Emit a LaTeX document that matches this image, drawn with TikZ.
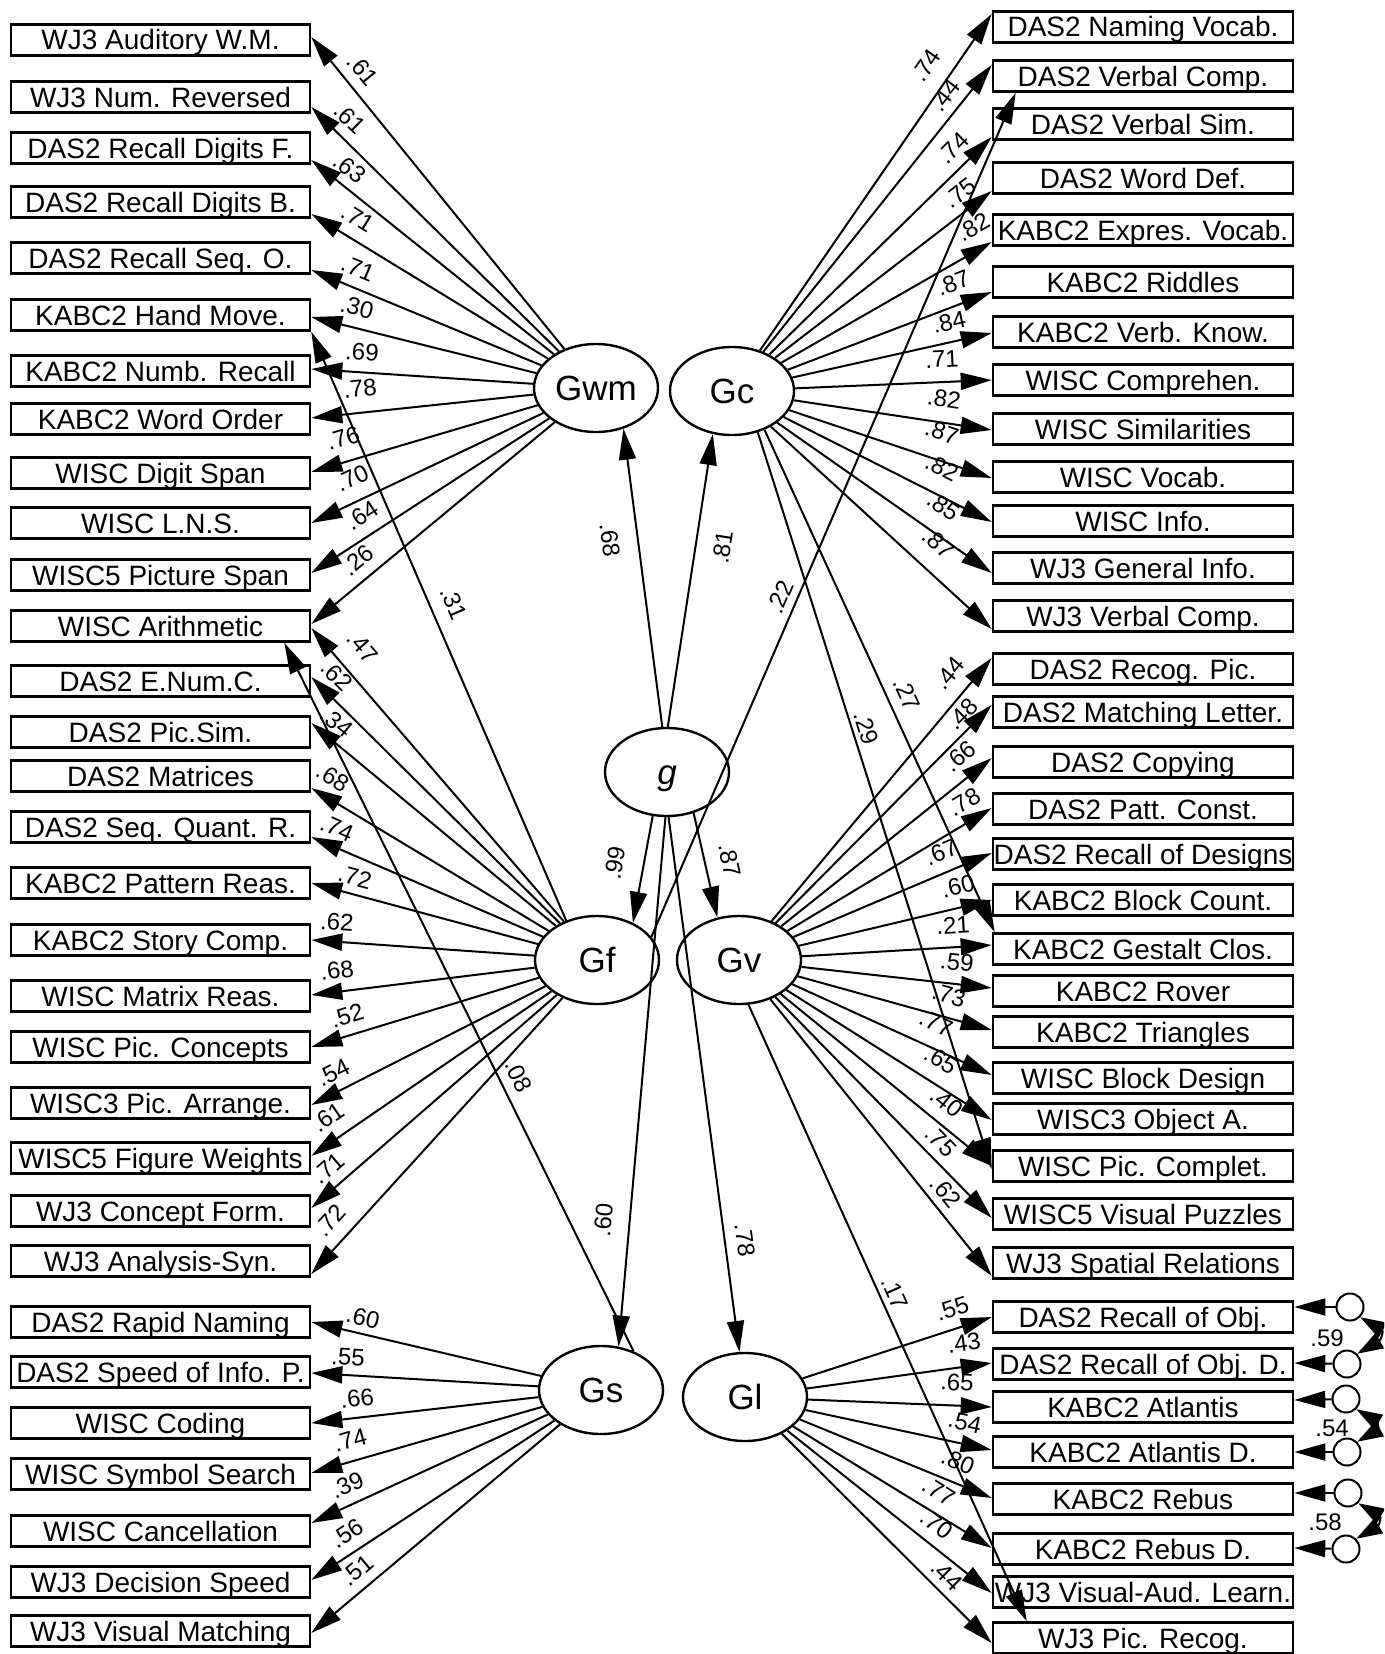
\documentclass[tikz,border=0pt]{standalone}
\usepackage{fontspec}
\setmainfont{Liberation Sans}
\usetikzlibrary{arrows.meta,calc,shapes.geometric}
\tikzset{
  box/.style={draw, line width=2.6pt, minimum width=299pt, minimum height=31pt, inner sep=0pt,
    text height=20pt, text depth=0pt, font=\fontsize{28}{30}\selectfont},
  rbox/.style={box, minimum width=300pt},
  lat/.style={draw, ellipse, line width=2.4pt, minimum width=124pt, minimum height=88pt, inner sep=0pt,
    text height=25pt, text depth=0pt, font=\fontsize{35}{40}\selectfont},
  arr/.style={line width=2pt, -{Triangle[length=31pt,width=17pt]}},
  dbl/.style={line width=2pt, {Triangle[length=26pt,width=17pt]}-{Triangle[length=26pt,width=17pt]}},
  lab/.style={font=\fontsize{24}{26}\selectfont, inner sep=0pt, text height=17pt, text depth=0pt},
  err/.style={draw, circle, line width=2pt, minimum size=27pt, inner sep=0pt},
}
\newcommand\ed[4]{%
  \draw[arr] (#1) -- (#2);
  \path let \p1=($(#1)-(#2)$), \n1={mod(atan2(\y1,\x1)+270,180)-90} in node[lab,rotate=\n1] at (#3) {#4};}
\newcommand\eL[5]{\coordinate (#1-#2) at ($(#2.east)+(0,#3)$);\ed{#1}{#1-#2}{#4}{#5}}
\newcommand\eR[5]{\coordinate (#1-#2) at ($(#2.west)+(0,#3)$);\ed{#1}{#1-#2}{#4}{#5}}
\begin{document}
\begin{tikzpicture}[x=1pt,y=-1pt]
\fill[white] (0,0) rectangle (1384,1654);
\useasboundingbox (0,0) rectangle (1384,1654);
\clip (0,0) rectangle (1384,1654);
% left boxes
\node[box] (a1) at (160.5,40) {WJ3 Auditory W.M.};
\node[box] (a2) at (160.5,97) {WJ3 Num. Reversed};
\node[box] (a3) at (160.5,148) {DAS2 Recall Digits F.};
\node[box] (a4) at (160.5,202) {DAS2 Recall Digits B.};
\node[box] (a5) at (160.5,258) {DAS2 Recall Seq. O.};
\node[box] (a6) at (160.5,315) {KABC2 Hand Move.};
\node[box] (a7) at (160.5,371) {KABC2 Numb. Recall};
\node[box] (a8) at (160.5,419) {KABC2 Word Order};
\node[box] (a9) at (160.5,473) {WISC Digit Span};
\node[box] (a10) at (160.5,523) {WISC L.N.S.};
\node[box] (a11) at (160.5,575) {WISC5 Picture Span};
\node[box] (a12) at (160.5,626) {WISC Arithmetic};
\node[box] (a13) at (160.5,681) {DAS2 E.Num.C.};
\node[box] (a14) at (160.5,732) {DAS2 Pic.Sim.};
\node[box] (a15) at (160.5,776) {DAS2 Matrices};
\node[box] (a16) at (160.5,827) {DAS2 Seq. Quant. R.};
\node[box] (a17) at (160.5,883) {KABC2 Pattern Reas.};
\node[box] (a18) at (160.5,940) {KABC2 Story Comp.};
\node[box] (a19) at (160.5,996) {WISC Matrix Reas.};
\node[box] (a20) at (160.5,1047) {WISC Pic. Concepts};
\node[box] (a21) at (160.5,1103) {WISC3 Pic. Arrange.};
\node[box] (a22) at (160.5,1158) {WISC5 Figure Weights};
\node[box] (a23) at (160.5,1211) {WJ3 Concept Form.};
\node[box] (a24) at (160.5,1261) {WJ3 Analysis-Syn.};
\node[box] (a25) at (160.5,1322) {DAS2 Rapid Naming};
\node[box] (a26) at (160.5,1372) {DAS2 Speed of Info. P.};
\node[box] (a27) at (160.5,1423) {WISC Coding};
\node[box] (a28) at (160.5,1474) {WISC Symbol Search};
\node[box] (a29) at (160.5,1531) {WISC Cancellation};
\node[box] (a30) at (160.5,1582) {WJ3 Decision Speed};
\node[box] (a31) at (160.5,1631) {WJ3 Visual Matching};
% right boxes
\node[rbox] (b1) at (1143,27) {DAS2 Naming Vocab.};
\node[rbox] (b2) at (1143,76) {DAS2 Verbal Comp.};
\node[rbox] (b3) at (1143,124) {DAS2 Verbal Sim.};
\node[rbox] (b4) at (1143,178) {DAS2 Word Def.};
\node[rbox] (b5) at (1143,230) {KABC2 Expres. Vocab.};
\node[rbox] (b6) at (1143,282) {KABC2 Riddles};
\node[rbox] (b7) at (1143,332) {KABC2 Verb. Know.};
\node[rbox] (b8) at (1143,380) {WISC Comprehen.};
\node[rbox] (b9) at (1143,429) {WISC Similarities};
\node[rbox] (b10) at (1143,477) {WISC Vocab.};
\node[rbox] (b11) at (1143,521) {WISC Info.};
\node[rbox] (b12) at (1143,568) {WJ3 General Info.};
\node[rbox] (b13) at (1143,616) {WJ3 Verbal Comp.};
\node[rbox] (b14) at (1143,669) {DAS2 Recog. Pic.};
\node[rbox] (b15) at (1143,712) {DAS2 Matching Letter.};
\node[rbox] (b16) at (1143,762) {DAS2 Copying};
\node[rbox] (b17) at (1143,809) {DAS2 Patt. Const.};
\node[rbox] (b18) at (1143,854) {DAS2 Recall of Designs};
\node[rbox] (b19) at (1143,900) {KABC2 Block Count.};
\node[rbox] (b20) at (1143,949) {KABC2 Gestalt Clos.};
\node[rbox] (b21) at (1143,991) {KABC2 Rover};
\node[rbox] (b22) at (1143,1032) {KABC2 Triangles};
\node[rbox] (b23) at (1143,1078) {WISC Block Design};
\node[rbox] (b24) at (1143,1119) {WISC3 Object A.};
\node[rbox] (b25) at (1143,1166) {WISC Pic. Complet.};
\node[rbox] (b26) at (1143,1214) {WISC5 Visual Puzzles};
\node[rbox] (b27) at (1143,1263) {WJ3 Spatial Relations};
\node[rbox] (b28) at (1143,1317) {DAS2 Recall of Obj.};
\node[rbox] (b29) at (1143,1364) {DAS2 Recall of Obj. D.};
\node[rbox] (b30) at (1143,1407) {KABC2 Atlantis};
\node[rbox] (b31) at (1143,1452) {KABC2 Atlantis D.};
\node[rbox] (b32) at (1143,1499) {KABC2 Rebus};
\node[rbox] (b33) at (1143,1549) {KABC2 Rebus D.};
\node[rbox] (b34) at (1143,1592) {WJ3 Visual-Aud. Learn.};
\node[rbox] (b35) at (1143,1638) {WJ3 Pic. Recog.};
% latent
\node[lat] (Gwm) at (596,388) {Gwm};
\node[lat] (Gc) at (732,391) {Gc};
\node[lat] (g) at (667,772) {\itshape g};
\node[lat] (Gf) at (597,960) {Gf};
\node[lat] (Gv) at (739,960) {Gv};
\node[lat] (Gs) at (601,1390) {Gs};
\node[lat] (Gl) at (745,1397) {Gl};
% error terms
\node[err] (e1) at (1350,1307) {};
\node[err] (e2) at (1347,1364) {};
\node[err] (e3) at (1346,1399) {};
\node[err] (e4) at (1347,1452) {};
\node[err] (e5) at (1348,1493) {};
\node[err] (e6) at (1346,1549) {};
% g loadings
\ed{g.96}{Gwm.-56}{610,540}{.68}
\ed{g.89}{Gc.-114}{723,547}{.81}
\ed{g.-108}{Gf.46}{615,863}{.99}
\ed{g.-57}{Gv.117}{730,860}{.87}
\ed{g.-92}{Gs.68}{603,1220}{.60}
\ed{g.-88}{Gl.97}{745,1240}{.78}
% Gwm
\eL{Gwm}{a1}{-3}{363,70}{.61}
\eL{Gwm}{a2}{10}{350,118}{.61}
\eL{Gwm}{a3}{12}{350,168}{.63}
\eL{Gwm}{a4}{12}{358,218}{.71}
\eL{Gwm}{a5}{12}{358,268}{.71}
\eL{Gwm}{a6}{2}{357,307}{.30}
\eL{Gwm}{a7}{-2}{362,352}{.69}
\eL{Gwm}{a8}{-1}{360,388}{.78}
\eL{Gwm}{a9}{-1}{343,438}{.76}
\eL{Gwm}{a10}{0}{352,478}{.70}
\eL{Gwm}{a11}{-2}{362,515}{.64}
\eL{Gwm}{a12}{-2}{358,560}{.26}
% Gf
\eL{Gf}{a12}{2}{363,647}{.47}
\eL{Gf}{a13}{-4}{337,675}{.62}
\eL{Gf}{a14}{-9}{337,722}{.34}
\eL{Gf}{a15}{12}{333,777}{.68}
\eL{Gf}{a16}{10}{337,828}{.74}
\eL{Gf}{a17}{0}{355,877}{.72}
\eL{Gf}{a18}{0}{337,922}{.62}
\eL{Gf}{a19}{-1}{337,970}{.68}
\eL{Gf}{a20}{0}{347,1015}{.52}
\eL{Gf}{a21}{2}{333,1072}{.54}
\eL{Gf}{a22}{-2}{328,1117}{.61}
\eL{Gf}{a23}{-3}{328,1168}{.71}
\eL{Gf}{a24}{13}{330,1220}{.72}
\coordinate (hm) at (a6.south east);
\ed{Gf.128}{hm}{454,603}{.31}
\coordinate (vc) at ($(b2.south west)+(24,0)$);
\ed{Gf.23}{vc}{780,597}{.22}
% Gs
\eL{Gs}{a25}{0}{363,1317}{.60}
\eL{Gs}{a26}{1}{348,1357}{.55}
\eL{Gs}{a27}{0}{357,1398}{.66}
\eL{Gs}{a28}{-1}{350,1440}{.74}
\eL{Gs}{a29}{-8}{347,1485}{.39}
\eL{Gs}{a30}{-2}{347,1533}{.56}
\eL{Gs}{a31}{2}{357,1570}{.51}
\coordinate (ar) at ($(a12.south east)+(-27,0)$);
\ed{Gs.50}{ar}{519,1076}{.08}
% Gc
\eR{Gc}{b1}{-13}{926,65}{.74}
\eR{Gc}{b2}{-11}{945,95}{.44}
\eR{Gc}{b3}{13}{953,148}{.74}
\eR{Gc}{b4}{13}{960,193}{.75}
\eR{Gc}{b5}{12}{973,227}{.82}
\eR{Gc}{b6}{10}{953,283}{.87}
\eR{Gc}{b7}{1}{949,322}{.84}
\eR{Gc}{b8}{0}{942,359}{.71}
\eR{Gc}{b9}{1}{944,399}{.82}
\eR{Gc}{b10}{1}{942,432}{.87}
\eR{Gc}{b11}{1}{942,467}{.82}
\eR{Gc}{b12}{5}{944,506}{.85}
\eR{Gc}{b13}{13}{939,543}{.87}
\coordinate (gc1) at ($(b20.north west)+(3,0)$);
\ed{Gc.-50}{gc1}{907,694}{.27}
\coordinate (gc2) at ($(b25.west)+(0,3)$);
\ed{Gc.-58}{gc2}{867,728}{.29}
% Gv
\eR{Gv}{b14}{-11}{949,673}{.44}
\eR{Gv}{b15}{-7}{962,714}{.48}
\eR{Gv}{b16}{-4}{960,756}{.66}
\eR{Gv}{b17}{-1}{964,802}{.78}
\eR{Gv}{b18}{-1}{941,852}{.67}
\eR{Gv}{b19}{0}{958,886}{.60}
\eR{Gv}{b20}{-4}{953,925}{.21}
\eR{Gv}{b21}{-3}{957,962}{.59}
\eR{Gv}{b22}{-2}{949,995}{.73}
\eR{Gv}{b23}{-3}{936,1023}{.77}
\eR{Gv}{b24}{1}{941,1060}{.65}
\eR{Gv}{b25}{0}{947,1102}{.40}
\eR{Gv}{b26}{4}{941,1141}{.75}
\eR{Gv}{b27}{13}{946,1192}{.62}
\coordinate (pr) at ($(b35.north west)+(35,0)$);
\ed{Gv.-78}{pr}{895,1293}{.17}
% Gl
\eR{Gl}{b28}{0}{952,1308}{.55}
\eR{Gl}{b29}{-1}{964,1343}{.43}
\eR{Gl}{b30}{0}{957,1382}{.65}
\eR{Gl}{b31}{-2}{965,1422}{.54}
\eR{Gl}{b32}{-1}{958,1461}{.80}
\eR{Gl}{b33}{-1}{939,1491}{.77}
\eR{Gl}{b34}{1}{937,1524}{.70}
\eR{Gl}{b35}{5}{947,1575}{.44}
% error arrows
\coordinate (r1) at ($(b28.east)+(0,-10)$);
\coordinate (r2) at ($(b29.east)+(0,-1)$);
\coordinate (r3) at ($(b30.east)+(0,-7)$);
\coordinate (r4) at ($(b31.east)+(0,0)$);
\coordinate (r5) at ($(b32.east)+(0,-6)$);
\coordinate (r6) at ($(b33.east)+(0,-1)$);
\draw[arr] (e1) -- (r1);
\draw[arr] (e2) -- (r2);
\draw[arr] (e3) -- (r3);
\draw[arr] (e4) -- (r4);
\draw[arr] (e5) -- (r5);
\draw[arr] (e6) -- (r6);
% correlations
\draw[dbl] (e1.-45) to[out=-30,in=30,looseness=1.9] (e2.45);
\draw[dbl] (e3.-45) to[out=-30,in=30,looseness=1.9] (e4.45);
\draw[dbl] (e5.-45) to[out=-30,in=30,looseness=1.9] (e6.45);
\node[lab] (c1) at (1327,1338) {.59};
\node[lab] (c2) at (1332,1428) {.54};
\node[lab] (c3) at (1325,1522) {.58};
\end{tikzpicture}
\end{document}
